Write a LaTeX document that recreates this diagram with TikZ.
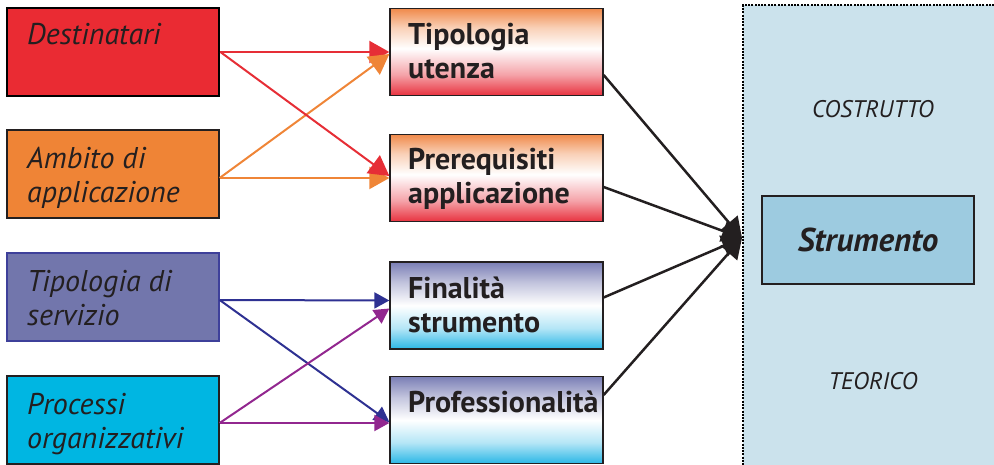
\documentclass[tikz,border=0pt]{standalone}
\usepackage{fontspec}
\setmainfont{PT Sans}
\usetikzlibrary{arrows.meta,calc}
\definecolor{cdark}{HTML}{231F20}
\definecolor{cred}{HTML}{EA2B33}
\definecolor{corange}{HTML}{EF8436}
\definecolor{cviolet}{HTML}{7276AC}
\definecolor{cvborder}{HTML}{3E409A}
\definecolor{ccyan}{HTML}{00B6E2}
\definecolor{ared}{HTML}{E62E36}
\definecolor{aorange}{HTML}{EF8537}
\definecolor{ablue}{HTML}{2E3192}
\definecolor{apurple}{HTML}{92278F}
\definecolor{cpanel}{HTML}{CBE2EC}
\definecolor{cstrum}{HTML}{9DCBE0}
\definecolor{gred}{HTML}{E8323F}
\definecolor{gorange}{HTML}{F08A4B}
\definecolor{gblue}{HTML}{7A7EB5}
\definecolor{gcyan}{HTML}{2AB7E6}
% colour fades of the middle boxes (bottom to top)
\pgfdeclareverticalshading{redfade}{100bp}{color(0bp)=(gred); color(25bp)=(gred); color(37bp)=(gred!45!white); color(52bp)=(white); color(64bp)=(gorange!40!white); color(75bp)=(gorange); color(100bp)=(gorange)}
\pgfdeclareverticalshading{bluefade}{100bp}{color(0bp)=(gcyan); color(25bp)=(gcyan); color(37bp)=(gcyan!35!white); color(50bp)=(white); color(63bp)=(gblue!45!white); color(75bp)=(gblue); color(100bp)=(gblue)}
\begin{document}
\begin{tikzpicture}
  [x=1pt,y=-1pt,
   lbox/.style={draw=cdark,line width=1.3pt,minimum width=212pt,minimum height=88pt,inner sep=0pt},
   mbox/.style={lbox,minimum width=213pt,minimum height=87pt},
   ltxt/.style={anchor=base west,align=left,inner sep=0pt,text=cdark,font=\fontsize{30}{34}\selectfont\itshape},
   mtxt/.style={anchor=base west,align=left,inner sep=0pt,text=cdark,font=\fontsize{30}{34}\selectfont\bfseries},
   link/.style={line width=2pt},
   big/.style={-{Triangle[length=20pt,width=22pt]}},
   small/.style={-{Triangle[length=15pt,width=16pt]}},
   conv/.style={line width=2.5pt,cdark,-{Triangle[length=20pt,width=22pt]}}]

  \useasboundingbox (0,0) rectangle (994,465);

  % right panel
  \node[fill=cpanel,draw=black,line width=2pt,dash pattern=on 2pt off 1.3pt,
        minimum width=270pt,minimum height=480pt,anchor=north west] (p) at (742,4) {};
  \node[text=cdark,font=\fontsize{24}{28}\selectfont\itshape] (c1) at (873,109) {COSTRUTTO};
  \node[text=cdark,font=\fontsize{24}{28}\selectfont\itshape] (c2) at (873,381) {TEORICO};
  \node[lbox,fill=cstrum,text=cdark,font=\fontsize{33}{38}\selectfont\bfseries\itshape] (s) at (868,240) {Strumento};

  % left boxes
  \node[lbox,fill=cred,draw=black,line width=2.8pt] (a1) at (113,52) {};
  \node[lbox,fill=corange] (a2) at (113,174) {};
  \node[lbox,fill=cviolet,draw=cvborder] (a3) at (113,297) {};
  \node[lbox,fill=ccyan] (a4) at (113,420) {};

  % (base = last line)
  \node[ltxt] (t1) at (27,45) {Destinatari};
  \node[ltxt] (t2) at (27,203) {Ambito di\\applicazione};
  \node[ltxt] (t3) at (27,326) {Tipologia di\\servizio};
  \node[ltxt] (t4) at (27,448) {Processi\\organizzativi};

  % middle boxes
  \node[mbox,shading=redfade] (b1) at (496.5,52) {};
  \node[mbox,shading=redfade] (b2) at (496.5,178) {};
  \node[mbox,shading=bluefade] (b3) at (496.5,305.5) {};
  \node[mbox,shading=bluefade] (b4) at (496.5,420) {};

  \node[mtxt] (u1) at (408,79) {Tipologia\\utenza};
  \node[mtxt] (u2) at (408,204) {Prerequisiti\\applicazione};
  \node[mtxt] (u3) at (408,332) {Finalità\\strumento};
  \node[mtxt] (u4) at (408,412) {Professionalità};

  % coloured arrows
  \draw[link,big,ared] (a1.east) -- (b1.west);
  \draw[link,big,aorange] ($(a2.east)+(0,4)$) -- ($(b1.west)+(0,2)$);
  \draw[link,big,aorange] ($(a2.east)+(0,4)$) -- (b2.west);
  \draw[link,big,ared] (a1.east) -- ($(b2.west)+(0,-2)$);

  \draw[link,small,ablue] ($(a3.east)+(0,3)$) -- ($(b3.west)+(0,-5)$);
  \draw[link,small,ablue] ($(a3.east)+(0,3)$) -- ($(b4.west)+(0,2)$);
  \draw[link,small,apurple] ($(a4.east)+(0,3)$) -- ($(b3.west)+(0,3)$);
  \draw[link,small,apurple] ($(a4.east)+(0,3)$) -- ($(b4.west)+(0,3)$);

  % black arrows
  \coordinate (tip) at (742,238);
  \draw[conv] ($(b1.east)+(0,23)$) -- (tip);
  \draw[conv] ($(b2.east)+(0,9)$) -- (tip);
  \draw[conv] ($(b3.east)+(0,-8)$) -- (tip);
  \draw[conv] ($(b4.east)+(0,-25)$) -- (tip);

\end{tikzpicture}
\end{document}
